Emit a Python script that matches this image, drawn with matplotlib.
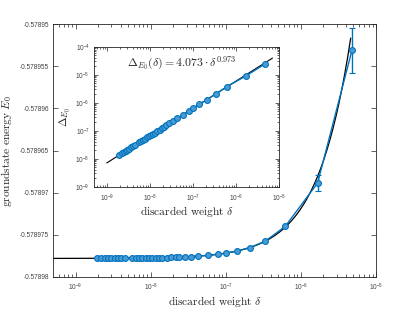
import numpy as np
import matplotlib
matplotlib.use("Agg")
import matplotlib.pyplot as plt
from matplotlib.ticker import LogLocator, FixedLocator, NullFormatter, LogFormatterMathtext

plt.rcParams['mathtext.fontset'] = 'custom'
plt.rcParams['mathtext.rm'] = 'Liberation Sans'
plt.rcParams['mathtext.it'] = 'Liberation Sans:italic'
plt.rcParams['mathtext.bf'] = 'Liberation Sans:bold'
plt.rcParams['font.family'] = ['Liberation Sans', 'DejaVu Sans']

# discarded weights
delta = [1.95e-9, 2.20e-9, 2.44e-9, 2.70e-9, 2.99e-9, 3.31e-9, 3.66e-9, 4.06e-9, 4.50e-9,
         5.70e-9, 6.31e-9, 6.98e-9, 7.74e-9, 8.57e-9, 9.48e-9, 1.05e-8, 1.17e-8, 1.29e-8,
         1.43e-8, 1.67e-8, 1.89e-8, 2.15e-8, 2.38e-8, 2.84e-8, 3.41e-8, 4.28e-8, 5.81e-8,
         7.89e-8, 1.02e-7, 1.40e-7, 2.09e-7, 3.34e-7, 6.18e-7, 1.67e-6, 4.79e-6]
# energy difference to extrapolated value
dE = [1.36e-8, 1.54e-8, 1.70e-8, 1.87e-8, 2.07e-8, 2.29e-8, 2.52e-8, 2.79e-8, 3.08e-8,
      3.88e-8, 4.28e-8, 4.72e-8, 5.22e-8, 5.77e-8, 6.37e-8, 7.05e-8, 7.78e-8, 8.59e-8,
      9.51e-8, 1.10e-7, 1.24e-7, 1.41e-7, 1.56e-7, 1.85e-7, 2.21e-7, 2.75e-7, 3.71e-7,
      5.00e-7, 6.43e-7, 8.75e-7, 1.29e-6, 2.04e-6, 3.80e-6, 8.95e-6, 2.47e-5]
err = [0]*33 + [1.0e-6, 2.65e-6]
E_inf = -0.5789778
fit_a = 4.073
fit_b = 0.973

yticks = [-0.57898, -0.578975, -0.57897, -0.578965, -0.57896, -0.578955, -0.57895]
ylabels = ['-0.57898', '-0.578975', '-0.57897', '-0.578965', '-0.57896', '-0.578955', '-0.57895']
xticks = [1e-9, 1e-8, 1e-7, 1e-6, 1e-5]
inset_yticks = [1e-9, 1e-8, 1e-7, 1e-6, 1e-5, 1e-4]

blue = '#0072BD'
face = '#4a9bd3'
spine = '#262626'
tickc = '#404040'
LS = 4.7   # tick label size
FS = 8.2   # axis label size

delta_a = np.array(delta)
E = E_inf + np.array(dE)


def minor_log(lo, hi):
    out = []
    for d in range(int(np.floor(np.log10(lo))), int(np.ceil(np.log10(hi))) + 1):
        for m in range(2, 10):
            v = m * 10.0**d
            if lo < v < hi:
                out.append(v)
    return out


fig = plt.figure(figsize=(4.15, 3.12), dpi=100)
ax = fig.add_axes([0.1277, 0.1122, 0.7783, 0.8108])

xf = np.logspace(np.log10(5e-10), np.log10(4.6e-6), 300)
ax.plot(xf, E_inf + fit_a * xf**fit_b, color='k', lw=0.9, zorder=2)
ax.errorbar(delta_a, E, yerr=err, color=blue, lw=1.0, marker='o', ms=4.2,
            mfc=face, mec=blue, mew=0.8, capsize=2.5, capthick=1.0, elinewidth=1.0, zorder=3)

ax.set_xscale('log')
ax.set_xlim(5e-10, 1e-5)
ax.set_ylim(-0.57898, -0.57895)
ax.yaxis.set_major_locator(FixedLocator(yticks))
ax.set_yticklabels(ylabels)
ax.xaxis.set_major_locator(FixedLocator(xticks))
ax.xaxis.set_minor_locator(FixedLocator(minor_log(5e-10, 1e-5)))
ax.xaxis.set_minor_formatter(NullFormatter())
ax.xaxis.set_major_formatter(LogFormatterMathtext())
for s in ax.spines.values():
    s.set_color(spine)
    s.set_linewidth(0.6)
ax.tick_params(which='both', direction='in', top=True, right=True, colors=spine,
               labelcolor=tickc, labelsize=LS, width=0.5)
ax.tick_params(which='major', length=3.5)
ax.tick_params(which='minor', length=2)
ax.tick_params(axis='x', pad=3.5)
ax.tick_params(axis='y', pad=3)
xl = ax.set_xlabel(r'$\mathrm{discarded\ weight}\ \delta$', fontsize=FS, color=spine)
yl = ax.set_ylabel(r'$\mathrm{groundstate\ energy}\ E_0$', fontsize=FS, color=spine)
xl.set_math_fontfamily('cm')
yl.set_math_fontfamily('cm')
ax.yaxis.set_label_coords(-0.122, 0.5)
ax.xaxis.set_label_coords(0.5, -0.066)

# inset
ins = fig.add_axes([0.2265, 0.4016, 0.4458, 0.4484])
xi = np.logspace(-9, np.log10(7e-6), 100)
ins.plot(xi, fit_a * xi**fit_b, color='k', lw=0.8, zorder=2)
ins.plot(delta_a, dE, '-', color=blue, lw=1.0, zorder=2.5)
ins.plot(delta_a, dE, 'o', ms=4.2, mfc=face, mec=blue, mew=0.8, zorder=3)
ins.set_xscale('log')
ins.set_yscale('log')
ins.set_xlim(5e-10, 1e-5)
ins.set_ylim(1e-9, 1e-4)
ins.xaxis.set_major_locator(FixedLocator(xticks))
ins.xaxis.set_minor_locator(FixedLocator(minor_log(5e-10, 1e-5)))
ins.yaxis.set_major_locator(FixedLocator(inset_yticks))
ins.yaxis.set_minor_locator(FixedLocator(minor_log(1e-9, 1e-4)))
for a in (ins.xaxis, ins.yaxis):
    a.set_minor_formatter(NullFormatter())
    a.set_major_formatter(LogFormatterMathtext())
for s in ins.spines.values():
    s.set_color(spine)
    s.set_linewidth(0.6)
ins.tick_params(which='both', direction='in', top=True, right=True, colors=spine,
                labelcolor=tickc, labelsize=LS, width=0.5)
ins.tick_params(which='major', length=3)
ins.tick_params(which='minor', length=1.5)
ins.tick_params(axis='x', pad=4)
ins.tick_params(axis='y', pad=3)
ixl = ins.set_xlabel(r'$\mathrm{discarded\ weight}\ \delta$', fontsize=FS, color=spine, labelpad=0)
iyl = ins.set_ylabel(r'$\Delta_{E_0}$', fontsize=FS, color=spine, labelpad=2)
ixl.set_math_fontfamily('cm')
iyl.set_math_fontfamily('cm')
t = ins.text(0.475, 0.885, r'$\Delta_{E_0}(\delta) = 4.073\cdot\delta^{0.973}$', transform=ins.transAxes,
             ha='center', va='center', fontsize=8.5, color=spine)
t.set_math_fontfamily('cm')

fig.savefig('out.png', dpi=100)
